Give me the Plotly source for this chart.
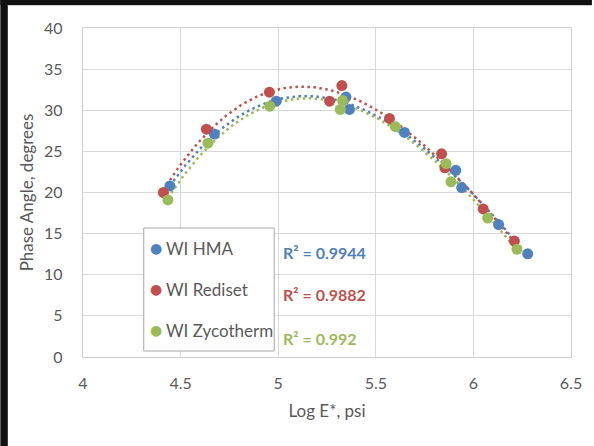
import numpy as np
import plotly.graph_objects as go

# ---- data ----
series_names = ["WI HMA", "WI Rediset", "WI Zycotherm"]
series_colors = ["#4F81BD", "#C0504D", "#9BBB59"]

hma_x = [4.445, 4.673, 4.99, 5.347, 5.365, 5.647, 5.91, 5.94, 6.129, 6.278]
hma_y = [20.8, 27.1, 31.1, 31.6, 30.1, 27.3, 22.7, 20.6, 16.1, 12.55]

rediset_x = [4.412, 4.632, 4.955, 5.263, 5.326, 5.57, 5.837, 5.854, 6.05, 6.21]
rediset_y = [20.0, 27.7, 32.2, 31.1, 33.0, 29.0, 24.7, 23.0, 18.0, 14.1]

zyco_x = [4.435, 4.64, 4.957, 5.318, 5.33, 5.6, 5.86, 5.885, 6.073, 6.223]
zyco_y = [19.1, 26.0, 30.5, 30.1, 31.2, 28.0, 23.5, 21.3, 16.9, 13.1]

r2_labels = ["R² = 0.9944", "R² = 0.9882", "R² = 0.992"]
trend_order = 3   # spreadsheet polynomial trendline order (matches the R² shown)

x_ticks = [4, 4.5, 5, 5.5, 6, 6.5]
y_ticks = [0, 5, 10, 15, 20, 25, 30, 35, 40]

xs = [hma_x, rediset_x, zyco_x]
ys = [hma_y, rediset_y, zyco_y]

# ---- layout geometry (pixels) ----
W, H = 594, 446
L, R, T, B = 83, 21, 28, 89
PW, PH = W - L - R, H - T - B

def px_x(p):
    return (p - L) / PW

def px_y(p):
    return (H - B - p) / PH

FONT = "Lato, 'Open Sans', sans-serif"
GREY = "#595959"

fig = go.Figure()

# polynomial trendlines fitted to each series, like the spreadsheet's
for x, y, c in zip(xs, ys, series_colors):
    coef = np.polyfit(x, y, trend_order)
    xx = np.linspace(min(x), max(x), 150)
    fig.add_trace(go.Scatter(x=xx, y=np.polyval(coef, xx), mode="lines",
                             line=dict(color=c, width=2.5, dash="2.5px,3.5px"),
                             showlegend=False, hoverinfo="skip"))

for x, y, c, n in zip(xs, ys, series_colors, series_names):
    fig.add_trace(go.Scatter(x=x, y=y, mode="markers", name=n,
                             marker=dict(color=c, size=11),
                             showlegend=False))

shapes = [
    # dark photo-like frame on left and top
    dict(type="rect", xref="paper", yref="paper", layer="above",
         x0=px_x(0), x1=px_x(7.5), y0=px_y(H), y1=px_y(0),
         fillcolor="#111111", line=dict(width=0)),
    dict(type="rect", xref="paper", yref="paper", layer="above",
         x0=px_x(0), x1=px_x(W), y0=px_y(5), y1=px_y(0),
         fillcolor="#111111", line=dict(width=0)),
    dict(type="line", xref="paper", yref="paper",
         x0=px_x(7.5), x1=px_x(W), y0=px_y(5.5), y1=px_y(5.5),
         line=dict(color="#cccccc", width=1)),
    # legend box
    dict(type="rect", xref="paper", yref="paper",
         x0=px_x(144), x1=px_x(275), y0=px_y(351), y1=px_y(228),
         fillcolor="white", line=dict(color="#a6a6a6", width=1)),
]

annotations = []
legend_y = [248, 289, 330]
for n, c, ly in zip(series_names, series_colors, legend_y):
    annotations.append(dict(xref="paper", yref="paper", x=px_x(156), y=px_y(ly),
                            text="●", showarrow=False, xanchor="center", yanchor="middle",
                            font=dict(color=c, size=14, family="DejaVu Sans")))
    annotations.append(dict(xref="paper", yref="paper", x=px_x(164), y=px_y(ly),
                            text=n, showarrow=False, xanchor="left", yanchor="middle",
                            font=dict(color=GREY, size=17, family=FONT)))

r2_y = [252, 294, 338]
for t, c, ry in zip(r2_labels, series_colors, r2_y):
    annotations.append(dict(xref="paper", yref="paper", x=px_x(282), y=px_y(ry),
                            text="<b>" + t + "</b>", showarrow=False,
                            xanchor="left", yanchor="middle",
                            font=dict(color=c, size=16, family=FONT)))

fig.update_layout(
    width=W, height=H,
    margin=dict(l=L, r=R, t=T, b=B),
    paper_bgcolor="white", plot_bgcolor="white",
    showlegend=False,
    font=dict(family=FONT, color=GREY, size=16),
    shapes=shapes, annotations=annotations,
    xaxis=dict(range=[4, 6.5], tickvals=x_ticks, ticktext=[f"{v:g}" for v in x_ticks],
               tickfont=dict(family=FONT, size=16, color=GREY),
               showgrid=True, gridcolor="#d9d9d9", gridwidth=1.3,
               showline=True, linecolor="#d0d0d0", linewidth=1.3, mirror=True,
               zeroline=False, ticks="", ticklabelstandoff=12,
               title=dict(text="Log E*, psi", font=dict(family=FONT, size=17, color=GREY),
                          standoff=13)),
    yaxis=dict(range=[0, 40], tickvals=y_ticks,
               tickfont=dict(family=FONT, size=16, color=GREY),
               showgrid=True, gridcolor="#d9d9d9", gridwidth=1.3,
               showline=True, linecolor="#d0d0d0", linewidth=1.3, mirror=True,
               zeroline=False, ticks="", ticklabelstandoff=16,
               title=dict(text="Phase Angle, degrees", font=dict(family=FONT, size=17, color=GREY),
                          standoff=6)),
)

fig.write_html("out.html", config={"displayModeBar": False},
               post_script="document.body.style.margin='0px';document.body.style.overflow='hidden';")
